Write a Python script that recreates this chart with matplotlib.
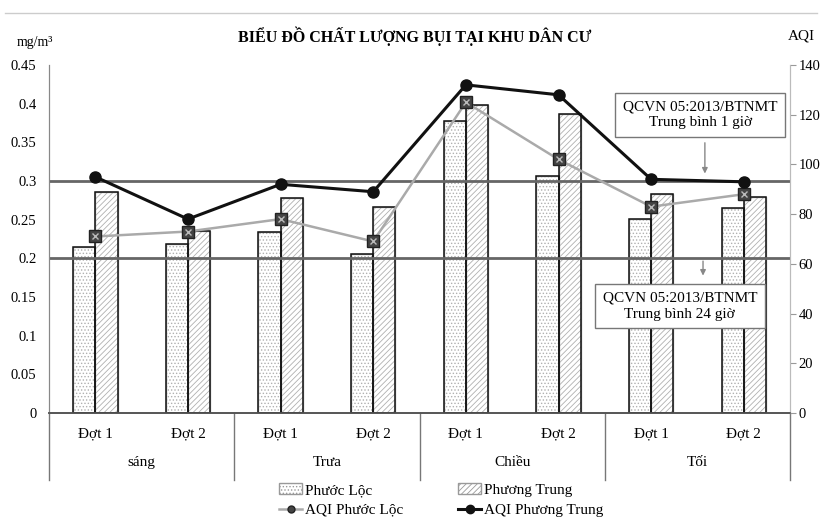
import numpy as np
import matplotlib.pyplot as plt
from matplotlib.lines import Line2D
from matplotlib.patches import Patch
import matplotlib.transforms as mtransforms

plt.rcParams['font.family'] = ['Liberation Serif', 'DejaVu Serif']
plt.rcParams['hatch.linewidth'] = 0.6

dot_labels = ['Đợt 1', 'Đợt 2'] * 4
groups = ['sáng', 'Trưa', 'Chiều', 'Tối']

# nồng độ bụi (mg/m3)
phuoc_loc = [0.214, 0.219, 0.234, 0.206, 0.377, 0.307, 0.251, 0.265]
phuong_trung = [0.286, 0.235, 0.278, 0.267, 0.398, 0.386, 0.283, 0.279]

# chỉ số AQI
aqi_phuoc_loc = [71, 73, 78, 69, 125, 102, 83, 88]
aqi_phuong_trung = [95, 78, 92, 89, 132, 128, 94, 93]

qcvn_1h = 0.3
qcvn_24h = 0.2

fig = plt.figure(figsize=(8.22, 5.21), dpi=100)
ax = fig.add_axes([0.0596, 0.2073, 0.9016, 0.668])
ax2 = ax.twinx()

x = np.arange(len(dot_labels))
w = 0.24
ax.bar(x - w / 2, phuoc_loc, w, color='white', edgecolor='#b0b0b0', hatch='.....', lw=1.0, zorder=2)
ax.bar(x + w / 2, phuong_trung, w, color='white', edgecolor='#b0b0b0', hatch='//////', lw=1.0, zorder=2)

# hatch colour comes from edgecolor, so the dark outlines go on top
ax.bar(x - w / 2, phuoc_loc, w, fill=False, edgecolor='#111111', lw=1.1, zorder=3)
ax.bar(x + w / 2, phuong_trung, w, fill=False, edgecolor='#111111', lw=1.1, zorder=3)

ax.axhline(qcvn_1h, color='#666666', lw=2, zorder=4)
ax.axhline(qcvn_24h, color='#666666', lw=2, zorder=4)

ax.set_xlim(-0.5, 7.5)
ax.set_ylim(0, 0.45)
ax.set_yticks(np.arange(0, 0.46, 0.05))
ax.set_yticklabels(['0', '0.05', '0.1', '0.15', '0.2', '0.25', '0.3', '0.35', '0.4', '0.45'])
ax.tick_params(axis='y', length=0, labelsize=10.5, pad=9)
ax.set_xticks([])

ax2.set_ylim(0, 140)
ax2.set_yticks(np.arange(0, 141, 20))
ax2.tick_params(axis='y', length=4, color='#999999', labelsize=10.5, pad=2)

ax2.plot(x, aqi_phuoc_loc, color='#aaaaaa', lw=1.8, marker='s', ms=8,
         mfc='#444444', mec='#222222', zorder=5)
ax2.plot(x, aqi_phuoc_loc, ls='none', marker='x', ms=5, mec='#bbbbbb', mew=1, zorder=6)
ax2.plot(x, aqi_phuong_trung, color='#111111', lw=2.2, marker='o', ms=8, zorder=7)

for a in (ax, ax2):
    a.spines['top'].set_visible(False)
    a.spines['left'].set_color('#888888')
    a.spines['right'].set_color('#bbbbbb')
    a.spines['bottom'].set_color('#555555')
    a.spines['bottom'].set_linewidth(1.2)
ax.set_zorder(ax2.get_zorder() - 1)
ax.patch.set_visible(False)

# category axis below the plot
trans = mtransforms.blended_transform_factory(ax.transData, ax.transAxes)
for i, lab in enumerate(dot_labels):
    ax.text(i, -0.06, lab, transform=trans, ha='center', va='center', fontsize=11)
for g, lab in enumerate(groups):
    ax.text(2 * g + 0.5, -0.141, lab, transform=trans, ha='center', va='center', fontsize=11)
for sx in [-0.5, 1.5, 3.5, 5.5, 7.5]:
    ax.plot([sx, sx], [0, -0.193], transform=trans, color='#777777', lw=1, clip_on=False)

# chú thích tiêu chuẩn QCVN
box = dict(boxstyle='square,pad=0.5', fc='white', ec='#777777', lw=1)
ax.text(6.53, 0.3855, 'QCVN 05:2013/BTNMT\nTrung bình 1 giờ', ha='center', va='center',
        fontsize=11, bbox=box, zorder=8, linespacing=1.3)
ax.text(6.31, 0.138, 'QCVN 05:2013/BTNMT\nTrung bình 24 giờ', ha='center', va='center',
        fontsize=11, bbox=box, zorder=8, linespacing=1.3)
ax.annotate('', xy=(6.58, 0.306), xytext=(6.58, 0.353),
            arrowprops=dict(arrowstyle='-|>', color='#888888', lw=1, mutation_scale=8), zorder=8)
ax.annotate('', xy=(6.56, 0.174), xytext=(6.56, 0.2),
            arrowprops=dict(arrowstyle='-|>', color='#888888', lw=1, mutation_scale=8), zorder=8)

fig.text(0.505, 0.93, 'BIỂU ĐỒ CHẤT LƯỢNG BỤI TẠI KHU DÂN CƯ', ha='center', va='center',
         fontsize=11.5, fontweight='bold')
fig.text(0.043, 0.918, 'mg/m³', ha='center', va='center', fontsize=10)
fig.text(0.975, 0.93, 'AQI', ha='center', va='center', fontsize=11)

fig.add_artist(Line2D([0.006, 0.994], [0.975, 0.975], color='#cccccc', lw=1))

handles = [
    Patch(facecolor='white', edgecolor='#999999', hatch='.....'),
    Line2D([], [], color='#aaaaaa', lw=1.8, marker='o', ms=5, mfc='#444444', mec='#222222'),
    Patch(facecolor='white', edgecolor='#999999', hatch='//////'),
    Line2D([], [], color='#111111', lw=2.2, marker='o', ms=6),
]
labels = ['Phước Lộc', 'AQI Phước Lộc', 'Phương Trung', 'AQI Phương Trung']
fig.legend(handles, labels, ncol=2, loc='center', bbox_to_anchor=(0.537, 0.04),
           frameon=False, fontsize=11, handlelength=1.5, handletextpad=0.2,
           columnspacing=3.6, labelspacing=0.4)

fig.savefig('out.png', dpi=100)
